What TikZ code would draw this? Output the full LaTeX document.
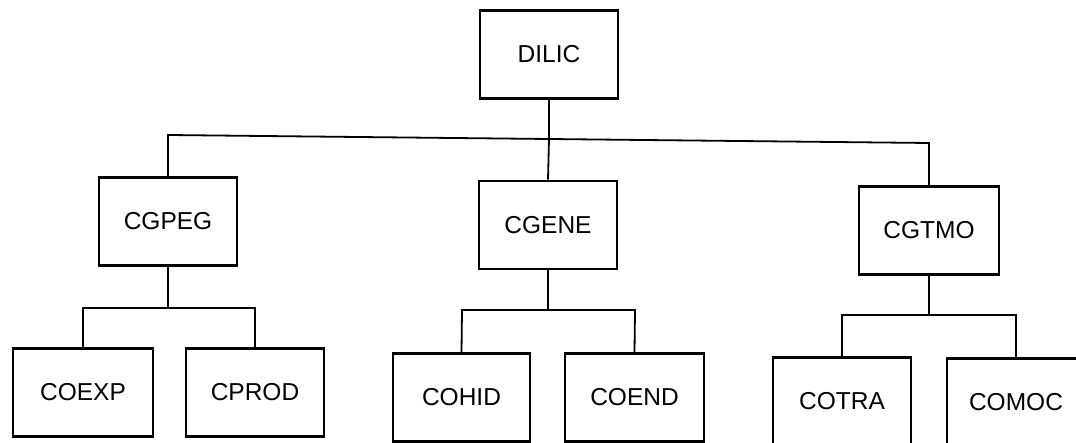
\documentclass[tikz,border=0pt]{standalone}
\usepackage{fontspec}
\setmainfont{Liberation Sans}
\begin{document}
\begin{tikzpicture}[x=1pt,y=-1pt,
  unit/.style={draw=black,line width=2.6pt,fill=white,minimum width=138pt,
    minimum height=88pt,inner sep=0pt,font=\fontsize{24.5}{28}\selectfont},
  link/.style={line width=1.8pt,draw=black}]
\useasboundingbox (0,0) rectangle (1076,443);
\clip (0,0) rectangle (1076,443);

% top level
\node[unit] (dilic) at (549,54.5) {DILIC};

% second level
\node[unit] (cgpeg) at (168,221.5) {CGPEG};
\node[unit] (cgene) at (548,225) {CGENE};
\node[unit,minimum width=140pt] (cgtmo) at (929,230.5) {CGTMO};

% third level
\node[unit,minimum width=140pt] (coexp) at (83,392.5) {COEXP};
\node[unit] (cprod) at (255,392.5) {CPROD};
\node[unit,minimum width=137pt] (cohid) at (461.5,397.5) {COHID};
\node[unit,minimum width=139pt] (coend) at (634.5,397.5) {COEND};
\node[unit] (cotra) at (842,401.5) {COTRA};
\node[unit] (comoc) at (1016,402.5) {COMOC};

% bus junctions
\coordinate (b0) at (549,139);
\coordinate (b0l) at (168,135);
\coordinate (b0r) at (929,143);
\coordinate (b1) at (168,308);
\coordinate (b1l) at (83,308);
\coordinate (b1r) at (255,308);
\coordinate (b2) at (548,310);
\coordinate (b2l) at (462,310);
\coordinate (b2r) at (635,310);
\coordinate (b3) at (929,315);
\coordinate (b3l) at (842,315);
\coordinate (b3r) at (1016,315);

% connectors
\draw[link] (dilic.south) -- (b0) -- (cgene.north);
\draw[link] (cgpeg.north) -- (b0l) -- (b0r) -- (cgtmo.north);

\draw[link] (cgpeg.south) -- (b1);
\draw[link] (coexp.north) -- (b1l) -- (b1r) -- (cprod.north);

\draw[link] (cgene.south) -- (b2);
\draw[link] (cohid.north) -- (b2l) -- (b2r) -- (coend.north);

\draw[link] (cgtmo.south) -- (b3);
\draw[link] (cotra.north) -- (b3l) -- (b3r) -- (comoc.north);
\end{tikzpicture}
\end{document}
